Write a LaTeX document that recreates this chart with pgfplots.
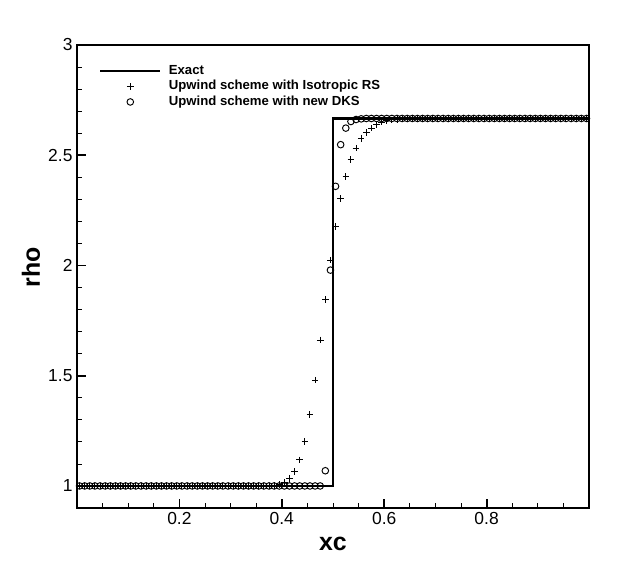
\documentclass[border=0pt]{standalone}
\usepackage{pgfplots}
\pgfplotsset{compat=1.18}
\usepackage{pgfplotstable}
\usepackage{fontspec}
\setmainfont{Liberation Sans}

\pgfplotstableread{
x y
0.000 1.0
0.500 1.0
0.500 2.6667
1.000 2.6667
}\exact

\pgfplotstableread{
x y
0.005 1.0
0.015 1.0
0.025 1.0
0.035 1.0
0.045 1.0
0.055 1.0
0.065 1.0
0.075 1.0
0.085 1.0
0.095 1.0
0.105 1.0
0.115 1.0
0.125 1.0
0.135 1.0
0.145 1.0
0.155 1.0
0.165 1.0
0.175 1.0
0.185 1.0
0.195 1.0
0.205 1.0
0.215 1.0
0.225 1.0
0.235 1.0
0.245 1.0
0.255 1.0
0.265 1.0
0.275 1.0
0.285 1.0
0.295 1.0
0.305 1.0
0.315 1.0
0.325 1.0
0.335 1.0
0.345 1.0
0.355 1.0
0.365 1.0
0.375 1.0
0.385 1.002
0.395 1.006
0.405 1.015
0.415 1.035
0.425 1.065
0.435 1.118
0.445 1.202
0.455 1.324
0.465 1.480
0.475 1.662
0.485 1.846
0.495 2.024
0.505 2.178
0.515 2.303
0.525 2.404
0.535 2.480
0.545 2.532
0.555 2.577
0.565 2.603
0.575 2.623
0.585 2.638
0.595 2.650
0.605 2.656
0.615 2.660
0.625 2.663
0.635 2.665
0.645 2.666
0.655 2.6667
0.665 2.6667
0.675 2.6667
0.685 2.6667
0.695 2.6667
0.705 2.6667
0.715 2.6667
0.725 2.6667
0.735 2.6667
0.745 2.6667
0.755 2.6667
0.765 2.6667
0.775 2.6667
0.785 2.6667
0.795 2.6667
0.805 2.6667
0.815 2.6667
0.825 2.6667
0.835 2.6667
0.845 2.6667
0.855 2.6667
0.865 2.6667
0.875 2.6667
0.885 2.6667
0.895 2.6667
0.905 2.6667
0.915 2.6667
0.925 2.6667
0.935 2.6667
0.945 2.6667
0.955 2.6667
0.965 2.6667
0.975 2.6667
0.985 2.6667
0.995 2.6667
}\iso

\pgfplotstableread{
x y
0.005 1.0
0.015 1.0
0.025 1.0
0.035 1.0
0.045 1.0
0.055 1.0
0.065 1.0
0.075 1.0
0.085 1.0
0.095 1.0
0.105 1.0
0.115 1.0
0.125 1.0
0.135 1.0
0.145 1.0
0.155 1.0
0.165 1.0
0.175 1.0
0.185 1.0
0.195 1.0
0.205 1.0
0.215 1.0
0.225 1.0
0.235 1.0
0.245 1.0
0.255 1.0
0.265 1.0
0.275 1.0
0.285 1.0
0.295 1.0
0.305 1.0
0.315 1.0
0.325 1.0
0.335 1.0
0.345 1.0
0.355 1.0
0.365 1.0
0.375 1.0
0.385 1.0
0.395 1.0
0.405 1.0
0.415 1.0
0.425 1.0
0.435 1.0
0.445 1.0
0.455 1.0
0.465 1.0
0.475 1.0
0.485 1.069
0.495 1.979
0.505 2.359
0.515 2.548
0.525 2.623
0.535 2.653
0.545 2.662
0.555 2.665
0.565 2.6667
0.575 2.6667
0.585 2.6667
0.595 2.6667
0.605 2.6667
0.615 2.6667
0.625 2.6667
0.635 2.6667
0.645 2.6667
0.655 2.6667
0.665 2.6667
0.675 2.6667
0.685 2.6667
0.695 2.6667
0.705 2.6667
0.715 2.6667
0.725 2.6667
0.735 2.6667
0.745 2.6667
0.755 2.6667
0.765 2.6667
0.775 2.6667
0.785 2.6667
0.795 2.6667
0.805 2.6667
0.815 2.6667
0.825 2.6667
0.835 2.6667
0.845 2.6667
0.855 2.6667
0.865 2.6667
0.875 2.6667
0.885 2.6667
0.895 2.6667
0.905 2.6667
0.915 2.6667
0.925 2.6667
0.935 2.6667
0.945 2.6667
0.955 2.6667
0.965 2.6667
0.975 2.6667
0.985 2.6667
0.995 2.6667
}\dks

\begin{document}
\begin{tikzpicture}
\begin{axis}[
  at={(0,0)}, anchor=south west,
  width=512bp, height=463bp, scale only axis,
  xmin=0, xmax=1, ymin=0.9, ymax=3,
  axis line style={line width=2.2bp},
  xtick={0.2,0.4,0.6,0.8},
  minor xtick={0.05,0.1,0.15,0.25,0.3,0.35,0.45,0.5,0.55,0.65,0.7,0.75,0.85,0.9,0.95},
  ytick={1,1.5,2,2.5,3},
  minor ytick={1.1,1.2,1.3,1.4,1.6,1.7,1.8,1.9,2.1,2.2,2.3,2.4,2.6,2.7,2.8,2.9},
  xtick pos=bottom, ytick pos=left,
  tick align=inside,
  major tick length=9bp, minor tick length=5bp,
  major tick style={line width=1.8bp, black},
  minor tick style={line width=0.8bp, black},
  /pgf/number format/assume math mode=true,
  tick label style={font=\fontsize{17.5}{19}\selectfont},
  xticklabel style={yshift=-1bp},
  yticklabel style={xshift=-1bp},
  xlabel={\textbf{xc}}, ylabel={\textbf{rho}},
  label style={font=\fontsize{25}{27}\selectfont},
  xlabel style={at={(axis description cs:0.5,0)}, anchor=center, yshift=-36bp},
  ylabel style={at={(axis description cs:0,0.52)}, anchor=center, yshift=46bp},
  legend style={draw=none, fill=none, inner sep=0pt,
    at={(rel axis cs:0,1)}, anchor=north west, xshift=22bp, yshift=-18bp,
    font=\bfseries\fontsize{13.2}{15}\selectfont,
    nodes={text height=9.5bp, text depth=3bp, inner ysep=1.5bp, inner xsep=2.5bp},
    column sep=5bp, row sep=0pt},
  legend cell align=left,
]
\addplot[black, line width=2.2bp, legend image code/.code={\draw[black, line width=2.2bp] (0bp,0bp) -- (60bp,0bp);}] table[x=x,y=y] {\exact};
\addlegendentry{Exact}
\addplot[only marks, mark=+, mark size=3.3bp, black, mark options={line width=0.95bp}, legend image code/.code={\draw[white, opacity=0] (0bp,0bp) -- (60bp,0bp); \draw[black, line width=0.95bp] plot[mark=+, mark size=3.3bp] coordinates {(30bp,0bp)};}] table[x=x,y=y] {\iso};
\addlegendentry{Upwind scheme with Isotropic RS}
\addplot[only marks, mark=o, mark size=3.3bp, black, mark options={line width=0.95bp}, legend image code/.code={\draw[white, opacity=0] (0bp,0bp) -- (60bp,0bp); \draw[black, line width=0.95bp] plot[mark=o, mark size=3.3bp] coordinates {(30bp,0bp)};}] table[x=x,y=y] {\dks};
\addlegendentry{Upwind scheme with new DKS}
\end{axis}
\pgfresetboundingbox
\path (-77bp,-57bp) rectangle (563bp,508bp);
\end{tikzpicture}
\end{document}
